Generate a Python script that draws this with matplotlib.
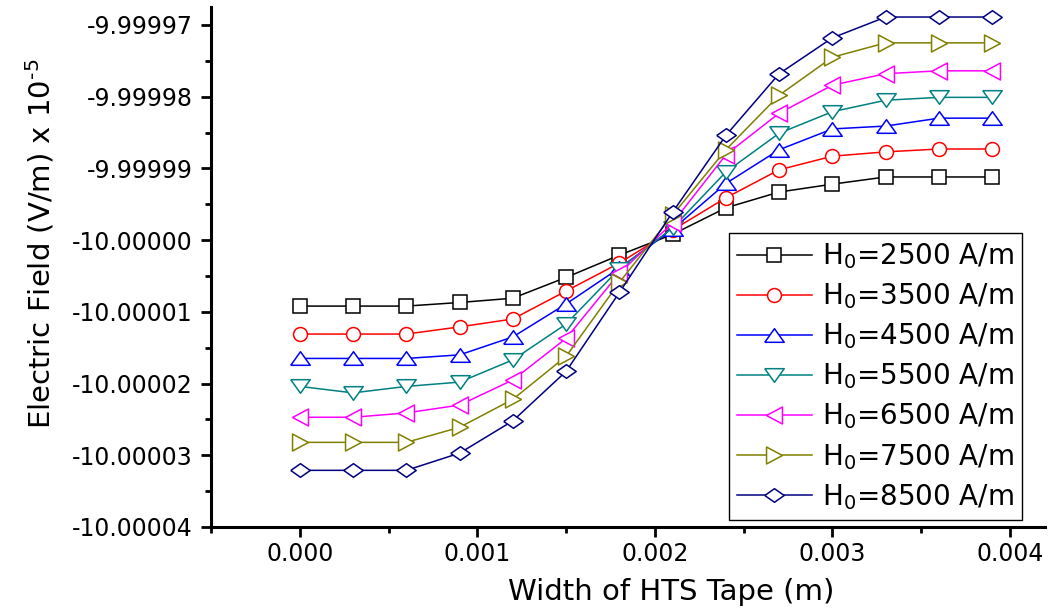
import numpy as np
import matplotlib
matplotlib.use("Agg")
import matplotlib.pyplot as plt
from matplotlib.ticker import FixedLocator, MultipleLocator, FormatStrFormatter

plt.rcParams['font.family'] = ['DejaVu Sans']

# tape width positions (m)
x = [0.0, 0.0003, 0.0006, 0.0009, 0.0012, 0.0015, 0.0018,
     0.0021, 0.0024, 0.0027, 0.0030, 0.0033, 0.0036, 0.0039]

# electric field (V/m) x 1e-5
e_2500 = [-10.0000092, -10.0000092, -10.0000092, -10.0000087, -10.0000081, -10.0000052, -10.0000021,
          -9.9999992, -9.9999955, -9.9999933, -9.9999922, -9.9999912, -9.9999912, -9.9999912]
e_3500 = [-10.0000131, -10.0000131, -10.0000131, -10.0000121, -10.0000110, -10.0000071, -10.0000032,
          -9.9999986, -9.9999941, -9.9999902, -9.9999883, -9.9999877, -9.9999873, -9.9999873]
e_4500 = [-10.0000165, -10.0000165, -10.0000165, -10.0000160, -10.0000135, -10.0000089, -10.0000039,
          -9.9999985, -9.9999921, -9.9999874, -9.9999845, -9.9999841, -9.9999830, -9.9999830]
e_5500 = [-10.0000204, -10.0000213, -10.0000204, -10.0000198, -10.0000167, -10.0000117, -10.0000040,
          -9.9999983, -9.9999905, -9.9999851, -9.9999821, -9.9999805, -9.9999801, -9.9999801]
e_6500 = [-10.0000247, -10.0000247, -10.0000241, -10.0000230, -10.0000195, -10.0000137, -10.0000046,
          -9.9999976, -9.9999881, -9.9999823, -9.9999784, -9.9999768, -9.9999764, -9.9999764]
e_7500 = [-10.0000282, -10.0000282, -10.0000282, -10.0000261, -10.0000222, -10.0000162, -10.0000059,
          -9.9999965, -9.9999874, -9.9999798, -9.9999745, -9.9999725, -9.9999725, -9.9999725]
e_8500 = [-10.0000321, -10.0000321, -10.0000321, -10.0000297, -10.0000252, -10.0000183, -10.0000073,
          -9.9999961, -9.9999854, -9.9999768, -9.9999718, -9.9999689, -9.9999689, -9.9999689]

labels = ["H$_0$=2500 A/m", "H$_0$=3500 A/m", "H$_0$=4500 A/m", "H$_0$=5500 A/m",
          "H$_0$=6500 A/m", "H$_0$=7500 A/m", "H$_0$=8500 A/m"]
y_ticks = [-10.00004, -10.00003, -10.00002, -10.00001, -10.00000, -9.99999, -9.99998, -9.99997]
x_ticks = [0.000, 0.001, 0.002, 0.003, 0.004]

series = [e_2500, e_3500, e_4500, e_5500, e_6500, e_7500, e_8500]
colors = ['#000000', '#FF0000', '#0000FF', '#008080', '#FF00FF', '#808000', '#000080']

tri_up = [(-1, -0.7), (1, -0.7), (0, 0.7), (-1, -0.7)]
tri_down = [(-1, 0.7), (1, 0.7), (0, -0.7), (-1, 0.7)]
tri_left = [(-0.94, 0), (0.94, 1), (0.94, -1), (-0.94, 0)]
tri_right = [(0.94, 0), (-0.94, 1), (-0.94, -1), (0.94, 0)]
diamond = [(-1, 0), (0, 0.7), (1, 0), (0, -0.7), (-1, 0)]
markers = ['s', 'o', tri_up, tri_down, tri_left, tri_right, diamond]
msizes = [10, 10, 14, 14, 12.2, 12.2, 14]

fig = plt.figure(figsize=(10.5, 6.13), dpi=100)
ax = fig.add_axes([0.201, 0.1403, 0.7947, 0.8483])

for ys, c, m, ms, lab in zip(series, colors, markers, msizes, labels):
    ax.plot(x, ys, color=c, lw=1.1, marker=m, ms=ms, mfc='white', mec=c, mew=1.1, label=lab)

ax.set_xlim(-0.0005, 0.0042)
ax.set_ylim(-10.00004, -9.9999675)

ax.xaxis.set_major_locator(FixedLocator(x_ticks))
ax.xaxis.set_minor_locator(MultipleLocator(0.0005))
ax.xaxis.set_major_formatter(FormatStrFormatter('%.3f'))
ax.yaxis.set_major_locator(FixedLocator(y_ticks))
ax.yaxis.set_minor_locator(FixedLocator([v + 0.000005 for v in y_ticks]))
ax.yaxis.set_major_formatter(FormatStrFormatter('%.5f'))

for s in ['top', 'right']:
    ax.spines[s].set_visible(False)
for s in ['left', 'bottom']:
    ax.spines[s].set_linewidth(2.2)

ax.tick_params(which='major', direction='out', length=7, width=2, labelsize=17)
ax.tick_params(which='minor', direction='out', length=4, width=2)
ax.tick_params(axis='y', which='major', pad=6)
ax.tick_params(axis='x', which='major', pad=4)

ax.set_xlabel("Width of HTS Tape (m)", fontsize=21)
ax.set_ylabel("Electric Field (V/m) x 10$^{\\mathrm{\u20105}}$", fontsize=21)
ax.xaxis.set_label_coords(0.552, -0.098)
ax.yaxis.set_label_coords(-0.185, 0.545)

leg = ax.legend(loc='lower right', bbox_to_anchor=(0.972, 0.0135), fontsize=20,
                frameon=True, fancybox=False, edgecolor='black', framealpha=1,
                handlelength=2.7, handletextpad=0.35, labelspacing=0.37,
                borderpad=0.3, borderaxespad=0)
leg.get_frame().set_linewidth(1.0)

fig.savefig("out.png", dpi=100)
